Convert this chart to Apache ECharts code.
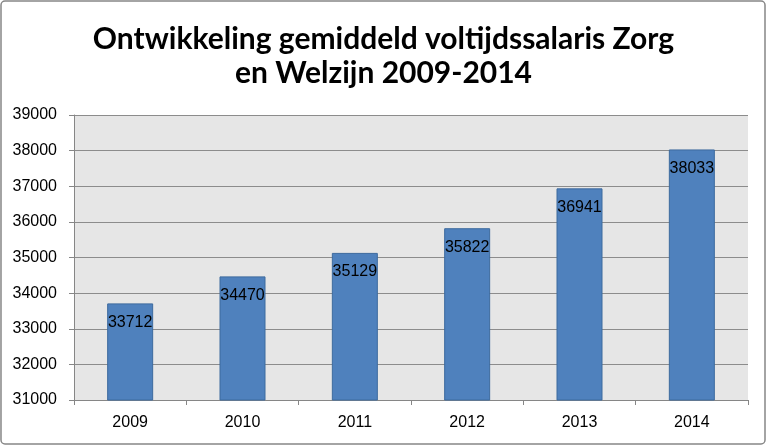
<!DOCTYPE html>
<html><head><meta charset="utf-8">
<script src="https://cdn.jsdelivr.net/npm/echarts@6/dist/echarts.min.js"></script>
<style>html,body{margin:0;padding:0;background:#fff}#c{width:767px;height:446px}</style>
</head><body><div id="c"></div>
<script>
const categories = ['2009','2010','2011','2012','2013','2014'];
const salaris = [33712, 34470, 35129, 35822, 36941, 38033];
const titleLines = ['Ontwikkeling gemiddeld voltijdssalaris Zorg', 'en Welzijn 2009-2014'];

const chart = echarts.init(document.getElementById('c'), null, {renderer:'canvas'});
chart.setOption({
  animation:false,
  backgroundColor:'#fff',
  graphic:[{type:'rect', shape:{x:1,y:1,width:764,height:443,r:4}, style:{fill:'none',stroke:'#868686',lineWidth:1.5}, silent:true}],
  title:{text:titleLines.join('\n'), left:'center', top:17,
    textStyle:{fontFamily:'Lato', fontWeight:'bold', fontSize:30, lineHeight:34, color:'#000'}},
  grid:{left:74, right:19, top:115, bottom:46, show:true, backgroundColor:'#e6e6e6', borderWidth:0},
  xAxis:{type:'category', data:categories,
    axisLine:{lineStyle:{color:'#868686', width:1}},
    axisTick:{show:true, length:5, lineStyle:{color:'#868686'}},
    axisLabel:{color:'#000', fontFamily:'Liberation Sans', fontSize:16, margin:15}},
  yAxis:{type:'value', min:31000, max:39000, interval:1000,
    axisLine:{show:true, lineStyle:{color:'#868686'}},
    axisTick:{show:true, length:5, lineStyle:{color:'#868686'}},
    splitLine:{lineStyle:{color:'#8c8c8c', width:1}},
    axisLabel:{color:'#000', fontFamily:'Liberation Sans', fontSize:16, margin:17, formatter:v => String(v)}},
  series:[{type:'bar', data:salaris, barWidth:46,
    itemStyle:{color:'#4f81bd', borderColor:'#3d6a9e', borderWidth:1},
    label:{show:true, position:'insideTop', distance:11, color:'#000', fontFamily:'Liberation Sans', fontSize:16, formatter:p => String(p.value)}}]
});
</script></body></html>
